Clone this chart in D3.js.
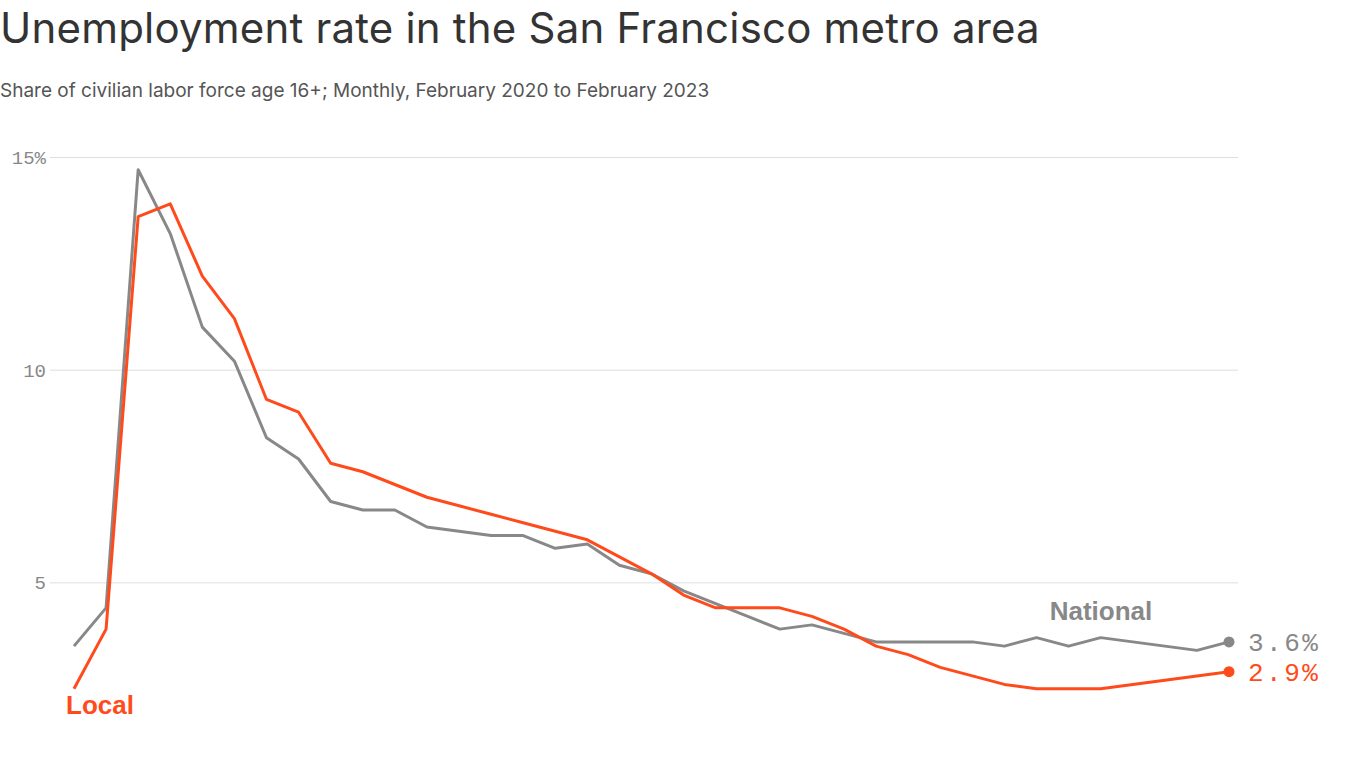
<!DOCTYPE html>
<html>
<head>
<meta charset="utf-8">
<script src="https://cdn.jsdelivr.net/npm/d3@7"></script>
<style>
  html, body { margin: 0; padding: 0; background: #fff; }
  svg { display: block; }
</style>
</head>
<body>
<svg id="chart" width="1366" height="768"></svg>
<script>
const months = [
  "2020-02","2020-03","2020-04","2020-05","2020-06","2020-07","2020-08","2020-09","2020-10","2020-11","2020-12",
  "2021-01","2021-02","2021-03","2021-04","2021-05","2021-06","2021-07","2021-08","2021-09","2021-10","2021-11","2021-12",
  "2022-01","2022-02","2022-03","2022-04","2022-05","2022-06","2022-07","2022-08","2022-09","2022-10","2022-11","2022-12",
  "2023-01","2023-02"
];
const national = [3.5,4.4,14.7,13.2,11.0,10.2,8.4,7.9,6.9,6.7,6.7,
  6.3,6.2,6.1,6.1,5.8,5.9,5.4,5.2,4.8,4.5,4.2,3.9,
  4.0,3.8,3.6,3.6,3.6,3.6,3.5,3.7,3.5,3.7,3.6,3.5,
  3.4,3.6];
const local = [2.5,3.9,13.6,13.9,12.2,11.2,9.3,9.0,7.8,7.6,7.3,
  7.0,6.8,6.6,6.4,6.2,6.0,5.6,5.2,4.7,4.4,4.4,4.4,
  4.2,3.9,3.5,3.3,3.0,2.8,2.6,2.5,2.5,2.5,2.6,2.7,
  2.8,2.9];
const yTicks = [5, 10, 15];
const yTickLabels = ["5", "10", "15%"];

const title = "Unemployment rate in the San Francisco metro area";
const subtitle = "Share of civilian labor force age 16+; Monthly, February 2020 to February 2023";

const GRAY = "#888888";
const ORANGE = "#ff4b1c";

const svg = d3.select("#chart");

const x = d3.scalePoint().domain(months).range([74, 1229]);
const y = d3.scaleLinear().domain([0, 15]).range([795, 157]);

svg.append("text")
  .attr("x", 0).attr("y", 43)
  .attr("font-family", "Inter, 'Noto Sans', sans-serif")
  .attr("font-size", 42)
  .attr("letter-spacing", 0.2)
  .attr("fill", "#333")
  .text(title);

svg.append("text")
  .attr("x", 0).attr("y", 97)
  .attr("font-family", "Inter, 'Noto Sans', sans-serif")
  .attr("font-size", 19)
  .attr("fill", "#555")
  .text(subtitle);

// y axis with gridlines
const yAxis = d3.axisLeft(y)
  .tickValues(yTicks)
  .tickSize(-(1238 - 50))
  .tickPadding(4)
  .tickFormat((d, i) => yTickLabels[i]);

const gy = svg.append("g")
  .attr("transform", "translate(50,0)")
  .call(yAxis);
gy.select(".domain").remove();
gy.selectAll(".tick line").attr("stroke", "#dedede").attr("stroke-width", 1);
gy.selectAll(".tick text")
  .attr("font-family", "'Liberation Mono', 'DejaVu Sans Mono', monospace")
  .attr("font-size", 19)
  .attr("fill", GRAY)
  .attr("x", -4)
  .attr("dy", "0.35em")
  .attr("text-anchor", "end");

const line = d3.line()
  .x((d, i) => x(months[i]))
  .y(d => y(d));

svg.append("path")
  .datum(national)
  .attr("d", line)
  .attr("fill", "none")
  .attr("stroke", GRAY)
  .attr("stroke-width", 3)
  .attr("stroke-linejoin", "round");

svg.append("path")
  .datum(local)
  .attr("d", line)
  .attr("fill", "none")
  .attr("stroke", ORANGE)
  .attr("stroke-width", 3)
  .attr("stroke-linejoin", "round");

const last = months.length - 1;
const ends = [
  {v: national[last], c: GRAY},
  {v: local[last], c: ORANGE}
];
ends.forEach(e => {
  svg.append("circle")
    .attr("cx", x(months[last])).attr("cy", y(e.v))
    .attr("r", 5.5).attr("fill", e.c);
  svg.append("text")
    .attr("x", x(months[last]) + 19).attr("y", y(e.v))
    .attr("dy", "0.36em")
    .attr("font-family", "'Liberation Mono', 'DejaVu Sans Mono', monospace")
    .attr("font-size", 26)
    .attr("letter-spacing", 2.5)
    .attr("fill", e.c)
    .text(d3.format(".1f")(e.v) + "%");
});

svg.append("text")
  .attr("x", 1101).attr("y", 620)
  .attr("text-anchor", "middle")
  .attr("font-family", "'Liberation Sans', Arial, sans-serif")
  .attr("font-weight", "bold")
  .attr("font-size", 26)
  .attr("fill", GRAY)
  .text("National");

svg.append("text")
  .attr("x", 66).attr("y", 714)
  .attr("font-family", "'Liberation Sans', Arial, sans-serif")
  .attr("font-weight", "bold")
  .attr("font-size", 26)
  .attr("fill", ORANGE)
  .text("Local");
</script>
</body>
</html>
